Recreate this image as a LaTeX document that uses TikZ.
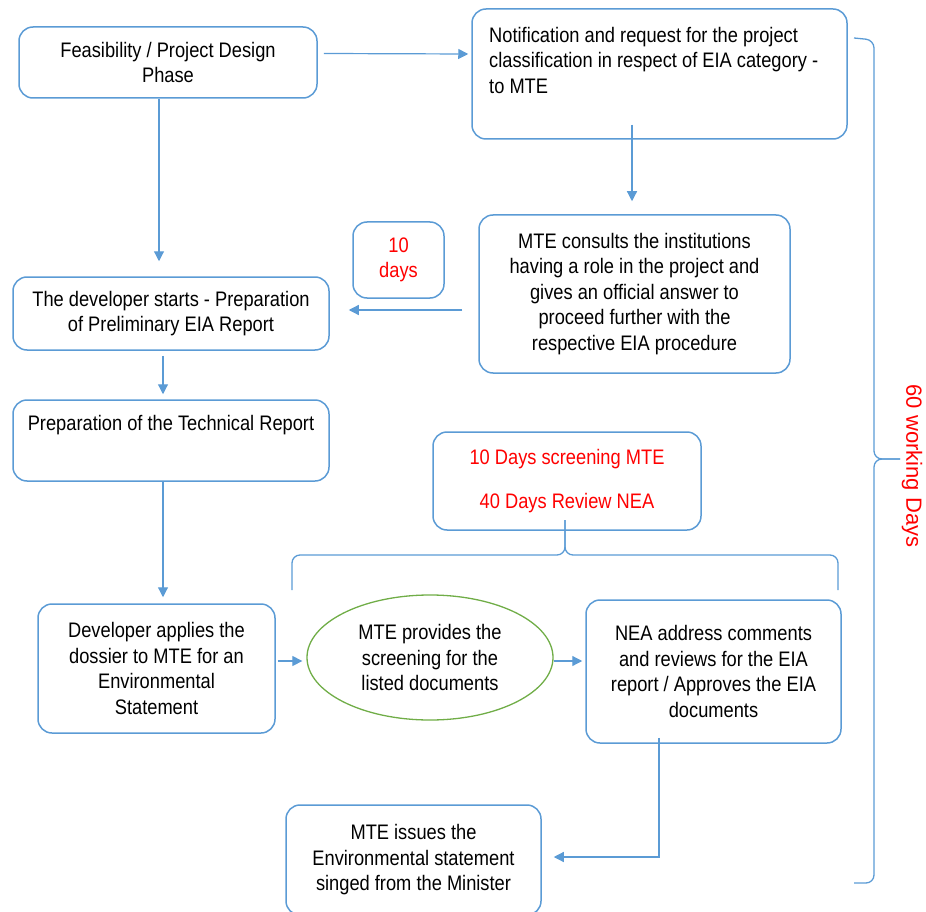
\documentclass[tikz,border=0pt]{standalone}
\usepackage{fontspec}
\setmainfont{Liberation Sans}[FakeStretch=0.87]
\newfontfamily\uprightfont{Liberation Sans}
\usetikzlibrary{arrows.meta, shapes.geometric}
\definecolor{officeblue}{RGB}{91,155,213}
\definecolor{officegreen}{RGB}{112,173,71}
\definecolor{dayred}{RGB}{255,0,0}

\begin{document}
\begin{tikzpicture}[x=1pt, y=-1pt,
    every node/.style={font=\fontsize{21}{25.5}\selectfont, align=center},
    box/.style={draw=officeblue, line width=1.5pt, rounded corners=14pt},
    arrow/.style={-{Triangle[length=10pt,width=10pt]}, draw=officeblue, line width=1.2pt},
    bracket/.style={draw=officeblue, line width=1.3pt, rounded corners=8pt},
    days/.style={text=dayred}]
    \useasboundingbox (0,0) rectangle (926,912);

    % left column
    \node[box, minimum width=298pt, minimum height=71pt] (feas) at (168,62.5) {Feasibility / Project Design\\Phase};
    \node[box, minimum width=316pt, minimum height=73pt] (devstart) at (171,313.5) {The developer starts - Preparation\\of Preliminary EIA Report};
    \node[box, minimum width=316pt, minimum height=81pt] (prep) at (171,440.5) {};
    \node[anchor=north, inner sep=0pt] (preptext) at (171,415) {Preparation of the Technical Report};
    \node[box, minimum width=237pt, minimum height=129pt] (apply) at (156.5,668.5) {Developer applies the\\dossier to MTE for an\\Environmental\\Statement};

    % right column
    \node[box, minimum width=375pt, minimum height=130pt] (notif) at (659.5,74) {};
    \node[anchor=north west, align=left, inner sep=0pt] (notiftext) at (489,27) {Notification and request for the project\\classification in respect of EIA category -\\to MTE};
    \node[box, minimum width=311pt, minimum height=158pt] (consults) at (634.5,294) {MTE consults the institutions\\having a role in the project and\\gives an official answer to\\proceed further with the\\respective EIA procedure};
    \node[box, days, minimum width=91pt, minimum height=76pt] (tendays) at (398.5,260) {10\\days};

    % screening and review
    \node[box, days, minimum width=268pt, minimum height=98pt] (screen) at (567,481) {10 Days screening MTE\\[18pt]40 Days Review NEA};
    \node[draw=officegreen, line width=1.3pt, ellipse, minimum width=246pt, minimum height=125pt] (screening) at (430,657.5) {MTE provides the\\screening for the\\listed documents};
    \node[box, minimum width=255pt, minimum height=143pt] (nea) at (713.5,671.5) {NEA address comments\\and reviews for the EIA\\report / Approves the EIA\\documents};
    \node[box, minimum width=255pt, minimum height=110pt] (issues) at (413.5,860) {MTE issues the\\Environmental statement\\singed from the Minister};

    % connectors
    \draw[arrow] ([xshift=6pt,yshift=9pt]feas.east) -- ([xshift=-3pt,yshift=20pt]notif.west);
    \draw[arrow] ([xshift=-27.5pt,yshift=15pt]notif.south) -- ([xshift=-2.5pt,yshift=13pt]consults.north);
    \draw[arrow] ([xshift=-16pt,yshift=-16pt]consults.west) -- ([xshift=19pt,yshift=3.5pt]devstart.east);
    \draw[arrow] ([xshift=-9pt]feas.south) -- ([xshift=-12pt,yshift=15pt]devstart.north);
    \draw[arrow] ([xshift=-8pt,yshift=-5pt]devstart.south) -- ([xshift=-8pt,yshift=5pt]prep.north);
    \draw[arrow] ([xshift=-8pt]prep.south) -- ([xshift=6.5pt,yshift=6pt]apply.north);
    \draw[arrow] ([xshift=2pt,yshift=7.5pt]apply.east) -- ([xshift=-4pt,yshift=-3.5pt]screening.west);
    \draw[arrow] ([yshift=-3.5pt]screening.east) -- ([xshift=-3pt,yshift=10.5pt]nea.west);
    \draw[arrow] ([xshift=-54.5pt,yshift=6pt]nea.south) |- ([xshift=12pt,yshift=3pt]issues.east);

    % brackets
    \coordinate (tip) at (565,520);
    \draw[bracket] (292,590) -- (292,555) -- (565,555) -- (tip);
    \draw[bracket] (tip) -- (565,555) -- (838,555) -- (838,590);
    \coordinate (bigtip) at (900,459);
    \draw[bracket] (854,38) -- (874,40) -- (874,459) -- (bigtip);
    \draw[bracket] (bigtip) -- (874,459) -- (874,883) -- (854,883);
    \node[days, rotate=-90, font=\uprightfont\fontsize{22}{26}\selectfont] (total) at (912,466) {60 working Days};
\end{tikzpicture}
\end{document}
